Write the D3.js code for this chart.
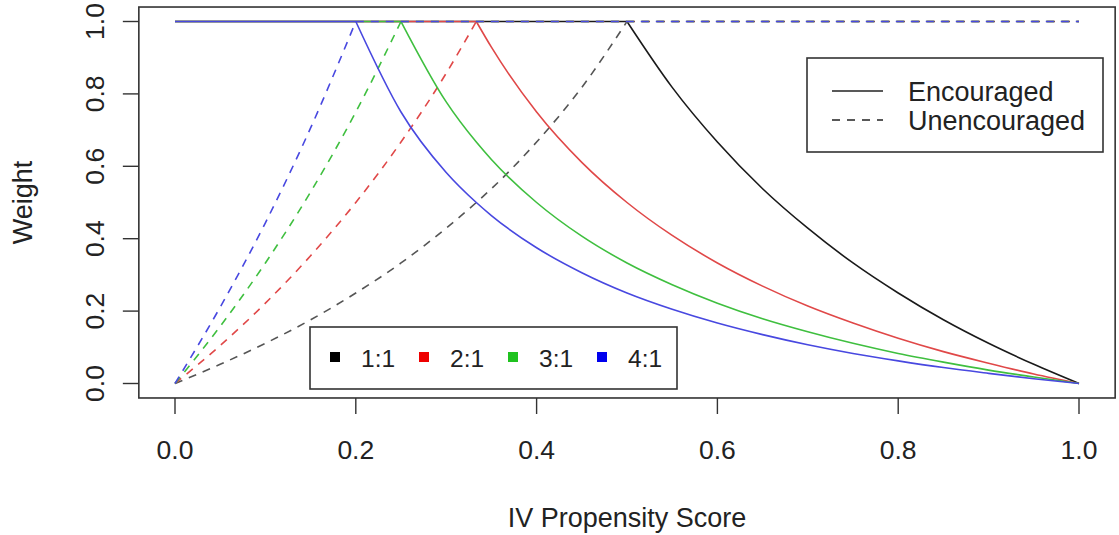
<!DOCTYPE html>
<html>
<head>
<meta charset="utf-8">
<script src="https://cdn.jsdelivr.net/npm/d3@7"></script>
<style>
  body { margin: 0; background: #fff; }
  text { font-family: "Liberation Sans", Arial, sans-serif; fill: #222; }
</style>
</head>
<body>
<svg id="weights" width="1119" height="535"></svg>
<script>
// IV propensity score grid (x values)
const scores = [0, 0.05, 0.1, 0.15, 0.2, 0.25, 0.3, 0.3333, 0.35, 0.4, 0.45, 0.5,
                0.55, 0.6, 0.65, 0.7, 0.75, 0.8, 0.85, 0.9, 0.95, 1.0];

// weights, one value per score
const enc11 = [1, 1, 1, 1, 1, 1, 1, 1, 1, 1, 1, 1,
               0.818, 0.667, 0.538, 0.429, 0.333, 0.25, 0.176, 0.111, 0.053, 0];
const enc21 = [1, 1, 1, 1, 1, 1, 1, 1, 0.929, 0.75, 0.611, 0.5,
               0.409, 0.333, 0.269, 0.214, 0.167, 0.125, 0.088, 0.056, 0.026, 0];
const enc31 = [1, 1, 1, 1, 1, 1, 0.778, 0.667, 0.619, 0.5, 0.407, 0.333,
               0.273, 0.222, 0.179, 0.143, 0.111, 0.083, 0.059, 0.037, 0.018, 0];
const enc41 = [1, 1, 1, 1, 1, 0.75, 0.583, 0.5, 0.464, 0.375, 0.306, 0.25,
               0.205, 0.167, 0.135, 0.107, 0.083, 0.0625, 0.044, 0.028, 0.013, 0];

const unenc11 = [0, 0.053, 0.111, 0.176, 0.25, 0.333, 0.429, 0.5, 0.538, 0.667, 0.818, 1,
                 1, 1, 1, 1, 1, 1, 1, 1, 1, 1];
const unenc21 = [0, 0.105, 0.222, 0.353, 0.5, 0.667, 0.857, 1, 1, 1, 1, 1,
                 1, 1, 1, 1, 1, 1, 1, 1, 1, 1];
const unenc31 = [0, 0.158, 0.333, 0.529, 0.75, 1, 1, 1, 1, 1, 1, 1,
                 1, 1, 1, 1, 1, 1, 1, 1, 1, 1];
const unenc41 = [0, 0.211, 0.444, 0.706, 1, 1, 1, 1, 1, 1, 1, 1,
                 1, 1, 1, 1, 1, 1, 1, 1, 1, 1];

const ratios = ["1:1", "2:1", "3:1", "4:1"];
const lineColors = ["#1a1a1a", "#e04848", "#3fbf3f", "#4848e0"];
const keyColors = ["#000000", "#ee0000", "#1fc21f", "#0000ee"];
const encouraged = [enc11, enc21, enc31, enc41];
const unencouraged = [unenc11, unenc21, unenc31, unenc41];

const xTicks = [0, 0.2, 0.4, 0.6, 0.8, 1.0];
const yTicks = [0, 0.2, 0.4, 0.6, 0.8, 1.0];

let svg = d3.select("#weights");

let xScale = d3.scaleLinear().domain([0, 1]).range([175, 1079]);
let yScale = d3.scaleLinear().domain([0, 1]).range([383.5, 21.5]);

let boxLeft = xScale(-0.04), boxRight = xScale(1.04);
let boxTop = yScale(1.04), boxBottom = yScale(-0.04);

let line = d3.line()
    .x(d => xScale(d[0]))
    .y(d => yScale(d[1]))
    .curve(d3.curveMonotoneX);

// split at the kink where the weight reaches 1, so the corner stays sharp
function pieces(values, rising) {
    let pts = values.map((v, i) => [scores[i], v]);
    let k = rising ? values.indexOf(1) : values.lastIndexOf(1);
    return [pts.slice(0, k + 1), pts.slice(k)];
}

// curves
ratios.forEach((r, i) => {
    let enc = pieces(encouraged[i], false);
    let unenc = pieces(unencouraged[i], true);
    svg.append("path")
        .attr("d", line(enc[0]) + line(enc[1]))
        .attr("fill", "none")
        .attr("stroke", lineColors[i])
        .attr("stroke-width", 1.6);
    svg.append("path")
        .attr("d", line(unenc[0]) + line(unenc[1]))
        .attr("fill", "none")
        .attr("stroke", i === 0 ? "#555" : lineColors[i])
        .attr("stroke-width", 1.6)
        .attr("stroke-dasharray", "8,7");
});

// plot box
svg.append("rect")
    .attr("x", boxLeft).attr("y", boxTop)
    .attr("width", boxRight - boxLeft).attr("height", boxBottom - boxTop)
    .attr("fill", "none").attr("stroke", "#333").attr("stroke-width", 1.6);

// x axis
let xAxis = svg.append("g");
xAxis.selectAll("line").data(xTicks).join("line")
    .attr("x1", d => xScale(d)).attr("x2", d => xScale(d))
    .attr("y1", boxBottom).attr("y2", boxBottom + 16)
    .attr("stroke", "#333").attr("stroke-width", 1.4);
xAxis.selectAll("text").data(xTicks).join("text")
    .attr("x", d => xScale(d)).attr("y", 459)
    .attr("text-anchor", "middle")
    .attr("font-size", 26.5)
    .text(d => d.toFixed(1));

// y axis
let yAxis = svg.append("g");
yAxis.selectAll("line").data(yTicks).join("line")
    .attr("x1", boxLeft - 16).attr("x2", boxLeft)
    .attr("y1", d => yScale(d)).attr("y2", d => yScale(d))
    .attr("stroke", "#333").attr("stroke-width", 1.4);
yAxis.selectAll("text").data(yTicks).join("text")
    .attr("transform", d => `translate(104,${yScale(d)}) rotate(-90)`)
    .attr("text-anchor", "middle")
    .attr("font-size", 26.5)
    .text(d => d.toFixed(1));

// axis titles
svg.append("text")
    .attr("x", (boxLeft + boxRight) / 2).attr("y", 527)
    .attr("text-anchor", "middle").attr("font-size", 27)
    .text("IV Propensity Score");
svg.append("text")
    .attr("transform", `translate(32,${(boxTop + boxBottom) / 2}) rotate(-90)`)
    .attr("text-anchor", "middle").attr("font-size", 27)
    .text("Weight");

// legend: line types
let legType = svg.append("g");
legType.append("rect")
    .attr("x", 807).attr("y", 58).attr("width", 296).attr("height", 94)
    .attr("fill", "#fff").attr("stroke", "#333").attr("stroke-width", 1.6);
[["Encouraged", null, 91], ["Unencouraged", "8,7", 120]].forEach(([label, dash, y]) => {
    legType.append("line")
        .attr("x1", 832).attr("x2", 883).attr("y1", y).attr("y2", y)
        .attr("stroke", "#222").attr("stroke-width", 1.6)
        .attr("stroke-dasharray", dash);
    legType.append("text")
        .attr("x", 908).attr("y", y + 10)
        .attr("font-size", 27)
        .text(label);
});

// legend: ratios
let legRatio = svg.append("g");
legRatio.append("rect")
    .attr("x", 310).attr("y", 327).attr("width", 367).attr("height", 62)
    .attr("fill", "#fff").attr("stroke", "#333").attr("stroke-width", 1.6);
let keyX = [335, 424, 513, 602];
ratios.forEach((r, i) => {
    legRatio.append("rect")
        .attr("x", keyX[i] - 5).attr("y", 352).attr("width", 10).attr("height", 10)
        .attr("fill", keyColors[i]);
    legRatio.append("text")
        .attr("x", keyX[i] + 26).attr("y", 367)
        .attr("font-size", 24.5)
        .text(r);
});
</script>
</body>
</html>
